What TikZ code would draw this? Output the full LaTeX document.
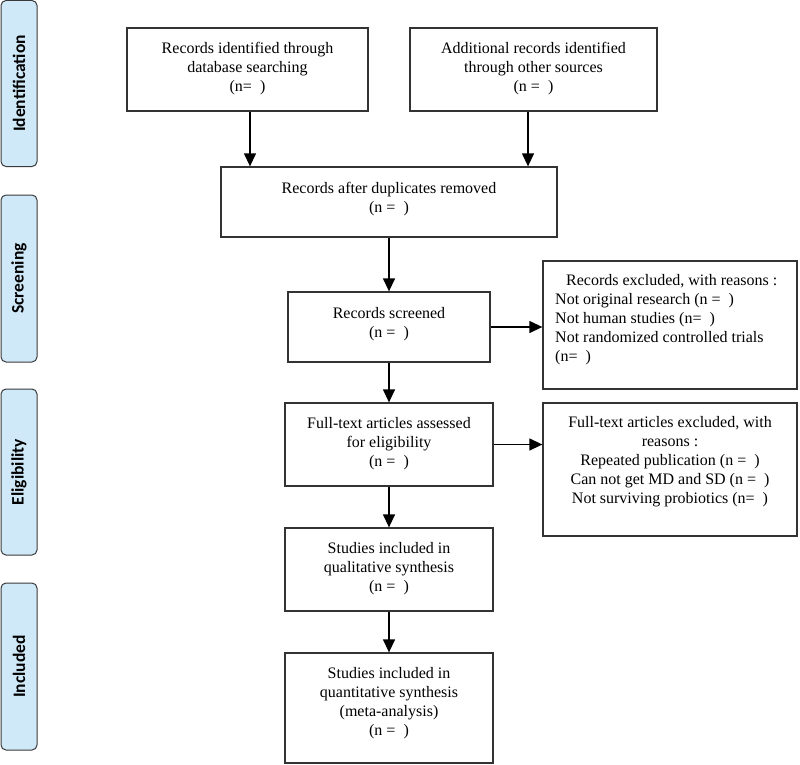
\documentclass[tikz,border=0pt]{standalone}
\usepackage{fontspec}
\setmainfont{Liberation Serif}
\newfontfamily\labelfont{Carlito}
\usetikzlibrary{arrows.meta}
\definecolor{lineC}{HTML}{333333}
\definecolor{stageFill}{HTML}{CFE9F9}
\definecolor{stageLine}{HTML}{3A3A3A}
\tikzset{
  box/.style={draw=lineC, line width=1.3pt, rectangle, inner sep=0pt},
  txt/.style={align=center, inner sep=0pt, font=\fontsize{16}{19}\selectfont},
  txtl/.style={align=left, inner sep=0pt, font=\fontsize{16}{19}\selectfont},
  stage/.style={draw=stageLine, fill=stageFill, line width=1pt, rounded corners=5pt,
    rotate=90, minimum width=#1, minimum height=36pt, inner sep=0pt,
    font=\labelfont\bfseries\fontsize{17.5}{18}\selectfont},
  arr/.style={draw=black, line width=1.3pt, -{Triangle[length=13pt,width=12pt]}}
}
\begin{document}
\begin{tikzpicture}[x=1pt,y=-1pt]
\useasboundingbox (0,0) rectangle (800,765);
% stage labels
\node[stage=166pt] (s1) at (19,83.5) {Identification};
\node[stage=167pt] (s2) at (19,278.5) {Screening};
\node[stage=166pt] (s3) at (19,472) {Eligibility};
\node[stage=167pt] (s4) at (19,666.5) {Included};
% boxes
\node[box, minimum width=241pt, minimum height=83pt] (a) at (247.5,69.5) {};
\node[txt] at (247.5,69) {Records identified through\\database searching\\(n=\ \ )};
\node[box, minimum width=247pt, minimum height=83pt] (b) at (533.5,69.5) {};
\node[txt] at (533.5,69) {Additional records identified\\through other sources\\(n =\ \ )};
\node[box, minimum width=336pt, minimum height=70pt] (dup) at (389,202) {};
\node[txt] at (389,199) {Records after duplicates removed\\(n =\ \ )};
\node[box, minimum width=202pt, minimum height=70pt] (scr) at (389,327) {};
\node[txt] at (389,324) {Records screened\\(n =\ \ )};
\node[box, minimum width=254pt, minimum height=128pt] (ex1) at (670,325) {};
\node[txtl, anchor=west] at (555,320) {\hspace*{11pt}Records excluded, with reasons :\\Not original research (n =\ \ )\\Not human studies (n=\ \ )\\Not randomized controlled trials\\(n=\ \ )};
\node[box, minimum width=208pt, minimum height=83pt] (ft) at (389,444.5) {};
\node[txt] at (389,444) {Full-text articles assessed\\for eligibility\\(n =\ \ )};
\node[box, minimum width=254pt, minimum height=133pt] (ex2) at (670,469.5) {};
\node[txt] at (670,462) {Full-text articles excluded, with\\reasons :\\Repeated publication (n =\ \ )\\Can not get MD and SD (n =\ \ )\\Not surviving probiotics (n=\ \ )};
\node[box, minimum width=208pt, minimum height=83pt] (ql) at (389,569.5) {};
\node[txt] at (389,569) {Studies included in\\qualitative synthesis\\(n =\ \ )};
\node[box, minimum width=208pt, minimum height=110pt] (qn) at (389,708) {};
\node[txt] at (389,703) {Studies included in\\quantitative synthesis\\(meta-analysis)\\(n =\ \ )};
% connectors
\draw[arr] ([xshift=2.5pt]a.south) -- ([xshift=2.5pt]a.south |- dup.north);
\draw[arr] ([xshift=-5.5pt]b.south) -- ([xshift=-5.5pt]b.south |- dup.north);
\draw[arr] (dup.south) -- (scr.north);
\draw[arr] (scr.east) -- (scr.east -| ex1.west);
\draw[arr] (scr.south) -- (ft.north);
\draw[arr] (ft.east) -- (ft.east -| ex2.west);
\draw[arr] (ft.south) -- (ql.north);
\draw[arr] (ql.south) -- (qn.north);
\end{tikzpicture}
\end{document}
